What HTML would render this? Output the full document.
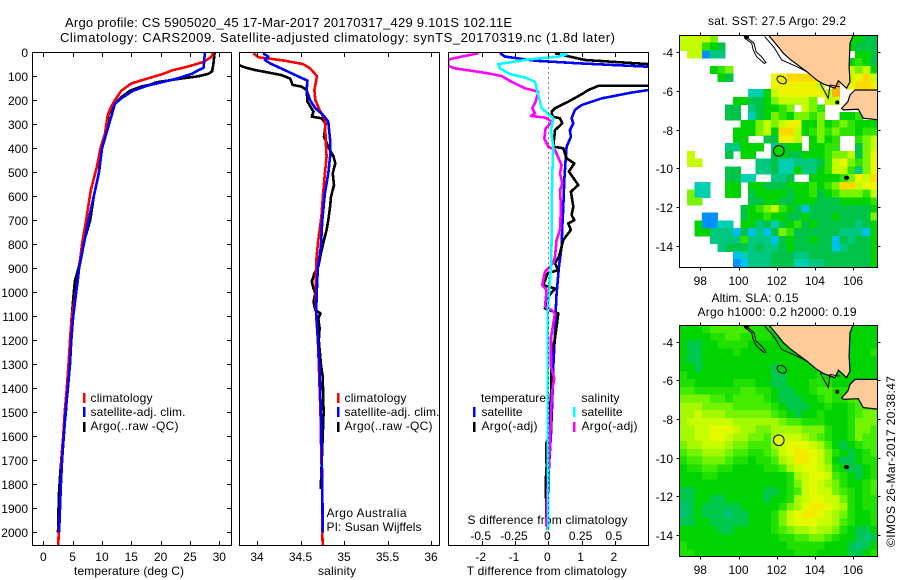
<!DOCTYPE html>
<html lang="en">
<head>
<meta charset="utf-8">
<title>Argo profile chart</title>
<style>
html,body{margin:0;padding:0;background:#fff;}
svg{display:block;}
text{font-family:"Liberation Sans",sans-serif;font-size:12px;fill:#000;}
</style>
</head>
<body>
<svg id="chart" xmlns="http://www.w3.org/2000/svg" width="900" height="580" viewBox="0 0 900 580">
<defs>
<clipPath id="clip-temp"><rect x="32.5" y="52.5" width="199" height="493"/></clipPath>
<clipPath id="clip-sal"><rect x="239.5" y="52.5" width="200" height="493"/></clipPath>
<clipPath id="clip-diff"><rect x="448.5" y="52.5" width="200" height="493"/></clipPath>
<clipPath id="clip-sst"><rect x="679.5" y="35.5" width="198" height="232"/></clipPath>
<clipPath id="clip-sla"><rect x="679.5" y="325.5" width="198" height="231"/></clipPath>
</defs>

<rect x="0" y="0" width="900" height="580" fill="#fff"/>

<text x="65" y="27" style="font-size:13px" textLength="447">Argo profile: CS 5905020_45 17-Mar-2017 20170317_429 9.101S 102.11E</text>
<text x="60" y="42" style="font-size:13px" textLength="555">Climatology: CARS2009. Satellite-adjusted climatology: synTS_20170319.nc (1.8d later)</text>
<text x="777" y="25" text-anchor="middle" textLength="138">sat. SST: 27.5 Argo: 29.2</text>
<text x="755" y="302" text-anchor="middle" textLength="87">Altim. SLA: 0.15</text>
<text x="777" y="316" text-anchor="middle" textLength="159">Argo h1000: 0.2 h2000: 0.19</text>
<text transform="translate(895,547) rotate(-90)" textLength="171">©IMOS 26-Mar-2017 20:38:47</text>

<text x="129" y="575" text-anchor="middle" textLength="110">temperature (deg C)</text>
<text x="337" y="575" text-anchor="middle" textLength="38">salinity</text>
<text x="546.7" y="575" text-anchor="middle" textLength="160">T difference from climatology</text>
<text x="547.5" y="524" text-anchor="middle" textLength="160">S difference from climatology</text>

<g id="layer-heat"></g>
<g id="layer-lines"></g>
<g id="layer-axes"></g>

<g>
<rect x="83" y="393" width="2.5" height="10" fill="#ff0000"/>
<rect x="83" y="407" width="2.5" height="10" fill="#0000ff"/>
<rect x="83" y="422" width="2.5" height="10" fill="#000"/>
<text x="90.5" y="402" textLength="62">climatology</text>
<text x="90.5" y="416" textLength="95">satellite-adj. clim.</text>
<text x="90.5" y="430" textLength="88">Argo(..raw -QC)</text>
</g>
<g>
<rect x="337" y="393" width="2.5" height="10" fill="#ff0000"/>
<rect x="337" y="407" width="2.5" height="10" fill="#0000ff"/>
<rect x="337" y="422" width="2.5" height="10" fill="#000"/>
<text x="344.5" y="402" textLength="62">climatology</text>
<text x="344.5" y="416" textLength="95">satellite-adj. clim.</text>
<text x="344.5" y="430" textLength="88">Argo(..raw -QC)</text>
<text x="326.5" y="517" textLength="80">Argo Australia</text>
<text x="326.5" y="531" textLength="95">PI: Susan Wijffels</text>
</g>
<g>
<text x="481" y="402" textLength="65">temperature</text>
<text x="581.5" y="402" textLength="38">salinity</text>
<rect x="473" y="407" width="2.5" height="10" fill="#0000ff"/>
<rect x="473" y="422" width="2.5" height="10" fill="#000"/>
<rect x="573" y="407" width="2.5" height="10" fill="#00ffff"/>
<rect x="573" y="422" width="2.5" height="10" fill="#ff00ff"/>
<text x="481.5" y="416" textLength="41">satellite</text>
<text x="481.5" y="430" textLength="56">Argo(-adj)</text>
<text x="581.5" y="416" textLength="41">satellite</text>
<text x="581.5" y="430" textLength="56">Argo(-adj)</text>
</g>
</svg>

<script>
/* ---------- Profile data ---------- */
const depthTicks = [0,100,200,300,400,500,600,700,800,900,1000,1100,1200,1300,1400,1500,1600,1700,1800,1900,2000];
const tempTicks = [0,5,10,15,20,25,30];
const salTicks = [34,34.5,35,35.5,36];
const salTickLabels = ['34','34.5','35','35.5','36'];
const tDiffTicks = [-2,-1,0,1,2];
const sDiffTicks = [-0.5,-0.25,0,0.25,0.5];
const sDiffTickLabels = ['-0.5','-0.25','0','0.25','0.5'];
const lonTicks = [98,100,102,104,106];
const latTicks = [-4,-6,-8,-10,-12,-14];

const tempClimDepth = [0,20,40,60,75,90,115,130,160,200,225,260,340,395,480,575,700,800,900,970,1100,1200,1300,1400,1500,1600,1700,1800,1900,2000,2055];
const tempClim = [29,28.6,27.3,24.6,22,20.4,17,15,13.3,12.2,11.6,11,10.5,9.8,9.1,8.1,7.3,6.6,6.1,5.8,4.84,4.55,4.3,4,3.64,3.4,3.1,3,2.85,2.62,2.55];
const tempSatDepth = [0,40,65,75,90,110,130,140,160,190,215,250,300,400,500,600,700,800,900,1000,1100,1200,1300,1400,1500,1600,1700,1800,1900,2000];
const tempSat = [27.55,27.4,27.3,26.4,25.3,22.7,19.3,17.6,15.3,13.4,12.2,11.8,11.2,10,9.5,8.6,7.7,6.9,6.1,5.6,5.1,4.77,4.55,4.2,3.8,3.5,3.2,3,2.85,2.7];
const tempArgoDepth = [0,50,80,90,100,110,125,135,142,160,185,220,260,320,400,500,600,700,800,900,950,1000,1100,1200,1300,1400,1500,1600,1750,1850,1950,2000];
const tempArgo = [29.2,29,28.75,28.1,26.4,23.3,19.3,18.2,16.8,14.8,13.4,11.9,11.1,10.8,9.9,9.5,8.6,8,6.8,6,5.4,5.2,4.85,4.7,4.4,4,3.85,3.4,2.9,2.65,2.55,2.5];

const salClimDepth = [4,21,25,35,49,67,99,157,199,240,282,365,435,504,588,685,782,851,949,1032,1100,1200,1300,1400,1500,1600,1700,1800,2000,2055];
const salClim = [33.96,34.015,34.11,34.32,34.53,34.61,34.69,34.66,34.67,34.72,34.78,34.79,34.8,34.78,34.76,34.74,34.705,34.685,34.675,34.675,34.68,34.7,34.71,34.72,34.73,34.735,34.74,34.75,34.75,34.755];
const salSatDepth = [4,18,32,46,74,95,118,157,199,233,261,289,365,435,504,588,699,810,893,977,1074,1200,1300,1400,1500,1600,1700,1800,2000];
const salSat = [34.07,34.13,34.09,34.15,34.32,34.44,34.58,34.57,34.61,34.67,34.76,34.82,34.84,34.84,34.82,34.78,34.75,34.735,34.7,34.69,34.68,34.7,34.72,34.725,34.735,34.74,34.745,34.75,34.755];
const salArgoDepth = [54,63,74,84,95,109,136,143,157,206,247,268,275,296,352,393,435,463,504,553,602,643,699,740,782,838,893,921,956,984,1004,1039,1074,1088,1109,1150,1200,1300,1350,1500,1600,1800,1820];
const salArgo = [33.8,33.86,33.98,34.13,34.28,34.38,34.41,34.51,34.57,34.58,34.65,34.63,34.74,34.79,34.77,34.82,34.88,34.9,34.87,34.885,34.85,34.84,34.82,34.8,34.77,34.735,34.705,34.66,34.63,34.65,34.67,34.65,34.67,34.73,34.705,34.72,34.71,34.735,34.755,34.765,34.755,34.735,34.735];

const tDiffSatDepth = [4,18,35,46,60,100,157,168,192,220,240,275,296,324,352,393,449,532,643,727,810,893,1004,1088,1171,1310,1449,1588,1727,1865,1990];
const tDiffSat = [-1.45,-1.3,-0.4,0.9,3,6,3,2.5,1.6,1,0.8,0.7,0.75,0.65,0.68,0.55,0.52,0.48,0.45,0.42,0.4,0.32,0.25,0.22,0.2,0.15,0.12,0.08,0.02,0,-0.02];
const tDiffArgoDepth = [4,32,49,90,139,140,157,171,206,233,247,268,275,296,324,393,400,442,463,497,553,581,643,678,699,713,740,782,851,879,907,921,970,984,1018,1067,1088,1143,1192,1268,1310,1435,1518,1588,1629,1727,1796,1893,1976];
const tDiffArgo = [0.2,1.1,3,6,3,1.5,1.2,1.05,0.6,0.2,0.1,0.12,0.35,0.42,0.2,0.15,0.45,0.55,0.78,0.62,0.9,0.68,0.75,0.7,0.78,0.6,0.68,0.45,0.32,0.2,0.3,-0.02,-0.15,0.2,0,-0.1,0.3,0.25,0.2,0.08,0.1,0.08,0.02,0.05,-0.06,-0.05,-0.08,-0.06,-0.06];
const sDiffArgoDepth = [4,18,30,57,67,77,88,99,123,150,164,206,233,254,265,272,289,317,359,393,407,470,504,546,574,643,740,782,851,879,914,970,991,1060,1074,1088,1129,1157,1185,1310,1358,1407,1490,1643,1754,1865,1976];
const sDiffArgo = [-0.525,-0.65,-0.75,-0.75,-0.7,-0.575,-0.45,-0.35,-0.275,-0.175,-0.075,-0.095,-0.12,-0.1,-0.13,-0.025,0.03,-0.02,-0.03,0,0.05,0.1,0.0875,0.105,0.0875,0.095,0.0875,0.0625,0.05,0.0375,-0.025,-0.045,-0.0125,-0.025,0.025,0.05,0.0375,0.03,0.02,0.02,0.045,0.03,0.02,0.0125,0,-0.01,-0.015];
const sDiffSatDepth = [4,8,18,30,49,67,91,105,123,178,233,275,324,393,504,643,782,893,1004,1100,1171,1588,1865,1990];
const sDiffSat = [0.0875,0.1375,0.075,-0.15,-0.375,-0.3625,-0.2875,-0.175,-0.1,-0.075,-0.05,0.0375,0.02,0.0375,0.03,0.025,0.025,0.02,0.005,-0.005,-0.005,-0.005,0,0];

/* ---------- Map data: one letter per 0.4 degree cell ---------- */
const sstLetters = 'abcdefghijkm';
const sstValues = [24.5,25.3,25.8,26.2,26.6,27,27.4,27.8,28.2,28.6,29,29.4];
const sstRows = [
"iiiih.................ffee",
"iiigfe................feee",
".iiadd.................ffe",
"......................fgfe",
"....fgh...............ihif",
".....fe.....jjkkkk....ijki",
"............jjjjjji.m.jkkj",
".........ccfijjjjjjim.....",
".......ffeefhiiiih.ii.....",
"......ee.deffgh.ihg.......",
"......ee.cefhgfhhgh..ffg..",
"........ffhihijjffhfghgfff",
".......fffhifkkifghghggfgg",
".......ff..eejji.fhfg..ghi",
"......ddfff.deff.ffgg..ehi",
".i....e.ff..efeefffghhiehj",
".ii.......ddeccdddegijhghj",
"......ee..ddeccfddfgiigdhj",
"......eecc..dde..ffffghjik",
"..cc..ff.ffeeefffgfghkkijj",
".hcc..ff.effffeffgefghhhgi",
".hh......eeffeefffeeeffffg",
"........efghigfebeeeeeeeef",
"...aa...effgffeefeeefeeeeh",
"..faacc.ffdecefgefeeeeedef",
"..ffdddbebdbehgeeeeeedddbf",
"....ddddgdddbefeefeebedeef",
".....deeededdefeeeeebdeeef",
".......bcdddeeeddeeeeeeeef",
".......abdddeeeccddeeeeeef"
];
const slaLetters = 'ABCDEFGHIJ';
const slaValues = [-0.05,0,0.04,0.08,0.1,0.13,0.16,0.19,0.22,0.25];
const slaRows = [
"CCCDEEEEEDDDCCCCCCCCCCCCCC",
"CCCCDDEEDDDDCCCCCCCCCCCCCC",
"CBBCCDDDDCCCCCCCCCCCCCCCCC",
"CBBCCCCDCCCCCCCCCCCCCCCCCD",
"CBBCCCCCCCCCCCCCCCCCCCCCCC",
"CCBCCCCCCCCCBCCCCCCCCCCCCC",
"DCCCCCCCCCCCBBCCCCDCCCCCCC",
"DDCCCCCDDDCCBBCCCDDDCCCCCC",
"EEDDDDDDEEDDCBBCCDEEDDEEEE",
"FFFFEEDEEEEDCBBBCCDEDDEEEE",
"GGGFFFFEEEEEDCBBBCCDCCDEEE",
"GGHGGGFFFFFFEDCBCCDCCCDEFF",
"GHHHHHHGGGGGGFEEDDDCCCDFFF",
"GGHHIIIHGGFFGGGGFFFDCCDFFE",
"GGHHIIHGGFFEGHHHGFEDCCDFEE",
"FGGHHHGFFEEEGHIIIHGECBCDEE",
"EFFGGGFEEDDEFHIJJIHFDCBCDE",
"DEEFFFEDDCDDEGHJJIHFCBBCDD",
"CDDEEDDCCCCDDEGHIIHGDCBBCD",
"CCCDDCCCCCCCCCDGHIIHEDCBCD",
"CCCCCCCCCCCCCCDFHIHGFDCCDE",
"BBCCCCCCCCCBBCDEHIHHFEDCDE",
"BBCCBBCCCCCBCCDGHIIHHFDCDD",
"ABCBBBBBCCCCCDFGIJJIHGDCDD",
"ABCBBBABBCCCDFHIJJIHGFDCCD",
"BBCCBBBBBCCCDFHIIIHHGEDCCD",
"CCCCCBBCCCCCDEFGGHGGFDCBBC",
"CCCCCCCCCCCCCDDEEFFEDCCBAB",
"DCCCCCCCCCCCCCDDDDDCCCBABC",
"DDCCCCCCCCCCCCCDDDCCCCBBCD"
];
const sumatraLon = [101.56,106.01,105.84,105.79,105.84,105.66,105.23,105.05,104.44,104.09,103.57,102.70,102.35,102.08];
const sumatraLat = [-3.1,-3.1,-3.53,-4.74,-5.52,-5.86,-5.47,-5.86,-5.64,-5.43,-5.0,-4.36,-4.05,-3.71];
const javaLon = [107.4,106.10,105.84,105.72,105.40,105.49,106.27,106.53,107.4];
const javaLat = [-5.95,-5.95,-6.21,-6.56,-6.90,-6.98,-6.95,-7.41,-7.5];
const mentawaiLon = [100.30,100.60,100.81,100.92,101.21,101.44,101.34,100.95,100.77,100.69,100.34,100.30];
const mentawaiLat = [-3.16,-3.36,-3.53,-3.97,-4.23,-4.54,-4.57,-4.23,-3.88,-3.53,-3.28,-3.16];
const shelfLon = [101.37,101.89,102.26,103.04,103.57];
const shelfLat = [-3.19,-3.79,-4.4,-4.74,-5.0];
const straitLon = [104.27,104.7,104.79,105.3];
const straitLat = [-5.6,-6.38,-5.69,-5.78];
const profileLon = 102.11;
const profileLat = -9.10;

/* ---------- Axis functions ---------- */
const Y_TOP = 52.3, Y_SCALE = 0.24;
function yDepth(d){return Y_TOP + d * Y_SCALE;}
function xTemp(t){return 43.3 + t * 5.867;}
function xSal(s){return 257 + (s - 34) * 87;}
function xTDiff(t){return 548.3 + t * 33.3;}
function xSDiff(s){return 548.3 + s * 133.2;}
function xLon(lon){return 700.3 + (lon - 98) * 19.1;}
function ySst(lat){return 52.3 + (-4 - lat) * 19.33;}
function ySla(lat){return 341.7 + (-4 - lat) * 19.33;}

const NS = 'http://www.w3.org/2000/svg';
const heat = document.getElementById('layer-heat');
const linesLayer = document.getElementById('layer-lines');
const axesLayer = document.getElementById('layer-axes');

function make(tag, attrs, parent){
  const e = document.createElementNS(NS, tag);
  for (const k in attrs) e.setAttribute(k, attrs[k]);
  parent.appendChild(e);
  return e;
}

/* ---------- Colours by value ---------- */
function sstColor(v){
  const stops = [[24.5,'#0090ff'],[25.3,'#00c0f0'],[25.8,'#00d0b0'],[26.2,'#00c880'],[26.6,'#00c448'],[27,'#00d400'],[27.4,'#30e400'],[27.8,'#78f400'],[28.2,'#c4fc00'],[28.6,'#ecf400'],[29,'#ffd800'],[29.4,'#ffb400']];
  for (const s of stops) if (v <= s[0]) return s[1];
  return '#ffb400';
}
function slaColor(v){
  const stops = [[-0.05,'#00c47c'],[0,'#00c84c'],[0.04,'#00d400'],[0.08,'#20e000'],[0.1,'#44ec00'],[0.13,'#74f400'],[0.16,'#a4f800'],[0.19,'#c8fc00'],[0.22,'#e4fa00'],[0.25,'#f4ec00']];
  for (const s of stops) if (v <= s[0]) return s[1];
  return '#f4ec00';
}

/* ---------- Heat maps ---------- */
const CELL_DEG = 0.4, LON0 = 96.9, LAT0_SST = -3.1, LAT0_SLA = -3.14;
function drawSst(){
  const g = make('g', {'clip-path':'url(#clip-sst)','shape-rendering':'crispEdges'}, heat);
  
  
  sstRows.forEach(function(row, r){
    for (let c = 0; c < row.length; c++){
      const idx = sstLetters.indexOf(row[c]);
      if (idx < 0) continue;
      const lon = LON0 + c * CELL_DEG, lat = LAT0_SST - r * CELL_DEG;
      const x0 = xLon(lon), x1 = xLon(lon + CELL_DEG), y0 = ySst(lat), y1 = ySst(lat - CELL_DEG);
      const cell = make('rect', {x:x0, y:y0, width:x1-x0+0.5, height:y1-y0+0.5, fill:sstColor(sstValues[idx])}, g);
      
      
    }
  });
}
function drawSla(){
  const g = make('g', {'clip-path':'url(#clip-sla)','shape-rendering':'crispEdges'}, heat);
  
  
  slaRows.forEach(function(row, r){
    for (let c = 0; c < row.length; c++){
      const idx = slaLetters.indexOf(row[c]);
      if (idx < 0) continue;
      const lon = LON0 + c * CELL_DEG, lat = LAT0_SLA - r * CELL_DEG;
      const x0 = xLon(lon), x1 = xLon(lon + CELL_DEG), y0 = ySla(lat), y1 = ySla(lat - CELL_DEG);
      const cell = make('rect', {x:x0, y:y0, width:x1-x0+0.5, height:y1-y0+0.5, fill:slaColor(slaValues[idx])}, g);
      
      
    }
  });
}
function pathFrom(lons, lats, yFn, close){
  let d = '';
  for (let i = 0; i < lons.length; i++) d += (i ? 'L' : 'M') + xLon(lons[i]).toFixed(1) + ' ' + yFn(lats[i]).toFixed(1);
  return d + (close ? 'Z' : '');
}
function drawGeo(yFn, clip, dotFill, prefix){
  const g = make('g', {'clip-path':'url(#'+clip+')'}, heat);
  
  
  const su = make('path', {d:pathFrom(sumatraLon, sumatraLat, yFn, true), fill:'#ffcc99', stroke:'#000', 'stroke-width':1.2}, g);
  
  
  const ja = make('path', {d:pathFrom(javaLon, javaLat, yFn, true), fill:'#ffcc99', stroke:'#000', 'stroke-width':1.2}, g);
  
  
  const me = make('path', {d:pathFrom(mentawaiLon, mentawaiLat, yFn, true), fill:'none', stroke:'#000', 'stroke-width':1}, g);
  
  
  const sh = make('path', {d:pathFrom(shelfLon, shelfLat, yFn, false), fill:'none', stroke:'#000', 'stroke-width':1}, g);
  
  
  const st = make('path', {d:pathFrom(straitLon, straitLat, yFn, false), fill:'none', stroke:'#000', 'stroke-width':1}, g);
  
  
  const en = make('ellipse', {cx:xLon(102.26), cy:yFn(-5.43), rx:5, ry:3.5, fill:'none', stroke:'#000', 'stroke-width':1, transform:'rotate(30 '+xLon(102.26)+' '+yFn(-5.43)+')'}, g);
  
  
  const ci = make('ellipse', {cx:xLon(105.66), cy:yFn(-10.49), rx:2.2, ry:1.5, fill:'#000', stroke:'#000', 'stroke-width':1}, g);
  
  
  const d1 = make('circle', {cx:xLon(100.42), cy:yFn(-3.2), r:2.5, fill:'#000'}, g);
  
  
  const d2 = make('circle', {cx:xLon(105.17), cy:yFn(-6.59), r:2, fill:'#000'}, g);
  
  
  const pc = make('circle', {cx:xLon(profileLon), cy:yFn(profileLat), r:5.3, fill:dotFill, stroke:'#000', 'stroke-width':1}, g);
  
  
}

/* ---------- Profile lines ---------- */
function drawLine(depths, values, xFn, color, clip, name, width){
  let d = '';
  for (let i = 0; i < depths.length; i++) d += (i ? 'L' : 'M') + xFn(values[i]).toFixed(1) + ' ' + yDepth(depths[i]).toFixed(1);
  const p = make('path', {d:d, fill:'none', stroke:color, 'stroke-width':width || 2.6, 'clip-path':'url(#'+clip+')', 'shape-rendering':'crispEdges', 'stroke-linejoin':'round'}, linesLayer);
  
  
}

/* ---------- Axes ---------- */
function addLabel(x, y, str, anchor, name){
  const t = make('text', {x:x, y:y, 'text-anchor':anchor}, axesLayer);
  t.textContent = str;
  
  
}
function addTick(x1, y1, x2, y2, name){
  const l = make('line', {x1:x1, y1:y1, x2:x2, y2:y2, stroke:'#000', 'stroke-width':1, 'shape-rendering':'crispEdges'}, axesLayer);
  
  
}
function addFrame(x, y, w, h, name){
  const r = make('rect', {x:x, y:y, width:w, height:h, fill:'none', stroke:'#000', 'stroke-width':1, 'shape-rendering':'crispEdges'}, axesLayer);
  
  
}

function drawProfileAxes(){
  addFrame(32.5, 52.5, 199, 493, 'temperature-plot-frame');
  addFrame(239.5, 52.5, 200, 493, 'salinity-plot-frame');
  addFrame(448.5, 52.5, 200, 493, 'difference-plot-frame');
  depthTicks.forEach(function(d){
    const y = Math.round(yDepth(d)) + 0.5;
    addTick(32.5, y, 37, y, 'depth-tick-left');
    addTick(231.5, y, 227, y, 'depth-tick-right');
    addLabel(28, y + 4.5, String(d), 'end', 'depth-tick-label');
  });
  tempTicks.forEach(function(t){
    const x = Math.round(xTemp(t)) + 0.5;
    addTick(x, 52.5, x, 57, 'temperature-tick-top');
    addTick(x, 545.5, x, 541, 'temperature-tick-bottom');
    addLabel(xTemp(t), 561, String(t), 'middle', 'temperature-tick-label');
  });
  salTicks.forEach(function(s, i){
    const x = Math.round(xSal(s)) + 0.5;
    addTick(x, 52.5, x, 57, 'salinity-tick-top');
    addTick(x, 545.5, x, 541, 'salinity-tick-bottom');
    addLabel(xSal(s), 561, salTickLabels[i], 'middle', 'salinity-tick-label');
  });
  tDiffTicks.forEach(function(t){
    const x = Math.round(xTDiff(t)) + 0.5;
    addTick(x, 52.5, x, 57, 'difference-tick-top');
    addTick(x, 545.5, x, 541, 'difference-tick-bottom');
    addLabel(xTDiff(t) - 1, 561, String(t), 'middle', 't-difference-tick-label');
  });
  sDiffTicks.forEach(function(s, i){
    addLabel(xSDiff(s) - 1, 540, sDiffTickLabels[i], 'middle', 's-difference-tick-label');
  });
  const zero = make('line', {x1:xTDiff(0), y1:52.5, x2:xTDiff(0), y2:545, stroke:'#000', 'stroke-width':1, 'stroke-dasharray':'1 4', 'shape-rendering':'crispEdges'}, axesLayer);
  
  
}
function drawMapAxes(top, bottom, yFn, prefix){
  addFrame(679.5, top + 0.5, 198, bottom - top, prefix + '-map-frame');
  lonTicks.forEach(function(lon){
    const x = Math.round(xLon(lon)) + 0.5;
    addTick(x, top + 0.5, x, top - 2.5, prefix + '-lon-tick-top');
    addTick(x, bottom + 0.5, x, bottom + 3.5, prefix + '-lon-tick-bottom');
    addLabel(xLon(lon), bottom + 18, String(lon), 'middle', prefix + '-lon-tick-label');
  });
  latTicks.forEach(function(lat){
    const y = Math.round(yFn(lat)) + 0.5;
    addTick(679.5, y, 676.5, y, prefix + '-lat-tick-left');
    addTick(877.5, y, 880.5, y, prefix + '-lat-tick-right');
    addLabel(673, y + 4.5, String(lat), 'end', prefix + '-lat-tick-label');
  });
}

/* ---------- Build ---------- */
drawSst();
drawSla();
drawGeo(ySst, 'clip-sst', '#10d800', 'sst');
drawGeo(ySla, 'clip-sla', '#e4fa00', 'sla');

drawLine(tempArgoDepth, tempArgo, xTemp, '#000000', 'clip-temp', 'temperature-argo-line');
drawLine(tempClimDepth, tempClim, xTemp, '#ff0000', 'clip-temp', 'temperature-climatology-line');
drawLine(tempSatDepth, tempSat, xTemp, '#0000ff', 'clip-temp', 'temperature-satellite-line');

drawLine(salArgoDepth, salArgo, xSal, '#000000', 'clip-sal', 'salinity-argo-line');
drawLine(salClimDepth, salClim, xSal, '#ff0000', 'clip-sal', 'salinity-climatology-line');
drawLine(salSatDepth, salSat, xSal, '#0000ff', 'clip-sal', 'salinity-satellite-line');

drawLine(tDiffSatDepth, tDiffSat, xTDiff, '#0000ff', 'clip-diff', 't-difference-satellite-line');
drawLine(tDiffArgoDepth, tDiffArgo, xTDiff, '#000000', 'clip-diff', 't-difference-argo-line');
drawLine(sDiffArgoDepth, sDiffArgo, xSDiff, '#ff00ff', 'clip-diff', 's-difference-argo-line');
drawLine(sDiffSatDepth, sDiffSat, xSDiff, '#00ffff', 'clip-diff', 's-difference-satellite-line');

drawProfileAxes();
drawMapAxes(35, 267, ySst, 'sst');
drawMapAxes(325, 556, ySla, 'sla');
</script>
</body>
</html>
